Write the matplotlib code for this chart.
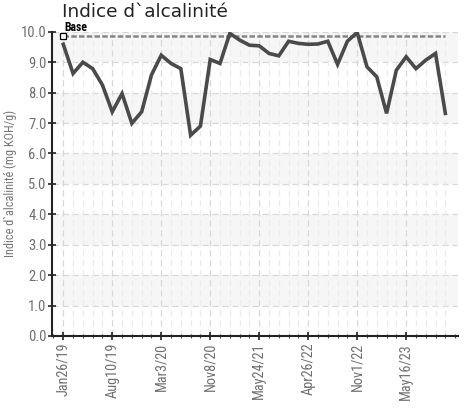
import matplotlib.pyplot as plt
from matplotlib.ticker import MultipleLocator
import numpy as np

# Valeurs (mg KOH/g)
valeurs = [9.59, 8.63, 9.00, 8.79, 8.25, 7.37, 7.97, 6.99, 7.37, 8.58,
           9.23, 8.96, 8.79, 6.60, 6.90, 9.09, 8.96, 9.95, 9.73, 9.56,
           9.54, 9.29, 9.21, 9.69, 9.62, 9.59, 9.60, 9.69, 8.93, 9.69,
           9.98, 8.85, 8.52, 7.32, 8.74, 9.18, 8.79, 9.07, 9.29, 7.32]
base = 9.86
tick_labels = ["Jan26/19", "Aug10/19", "Mar3/20", "Nov8/20",
               "May24/21", "Apr26/22", "Nov1/22", "May16/23"]

plt.rcParams['font.family'] = ['Roboto Condensed', 'Liberation Sans', 'DejaVu Sans']

x = np.arange(len(valeurs))

fig = plt.figure(figsize=(4.66, 4.08), dpi=100)
ax = fig.add_axes([0.1116, 0.1765, 0.8714, 0.7455])

# Bandes grises alternées
for lo in range(1, 10, 2):
    ax.axhspan(lo, lo + 1, color="#f6f6f6", zorder=0, lw=0)

# Grille
for v in range(1, 11):
    ax.axhline(v, color="#d8d8d8", lw=0.9, ls=(0, (5, 3)), zorder=1)
for i in x:
    if i % 5 == 0:
        ax.axvline(i, color="#d8d8d8", lw=0.9, ls=(0, (5, 3)), zorder=1)
    else:
        ax.axvline(i, color="#ececec", lw=0.9, ls=(0, (5, 3)), zorder=1)

# Ligne de base
ax.plot([x[0], x[-1]], [base, base], color="#858585", lw=1.8,
        ls=(0, (2.2, 0.9)), zorder=2)
ax.plot([x[0]], [base], marker="s", ms=4, mfc="white", mec="black",
        mew=0.9, zorder=4, clip_on=False)
ax.text(x[0] + 0.1, base + 0.08, "Base", fontsize=8.5, color="black",
        fontweight="bold", va="bottom", ha="left")

# Courbe
ax.plot(x, valeurs, color="#4a4a4a", lw=2.6, zorder=3,
        solid_joinstyle="miter")

ax.set_xlim(-1.15, 40.3)
ax.set_ylim(0, 10)
ax.set_xticks(x[::5])
ax.set_xticklabels(tick_labels, rotation=90, fontsize=10.3, color="#707070")
ax.xaxis.set_minor_locator(MultipleLocator(1))
ax.set_yticks(range(0, 11))
ax.set_yticklabels([f"{v:.1f}" for v in range(0, 11)], fontsize=10.5,
                   color="#707070")

ax.tick_params(axis="both", which="major", direction="inout", length=6,
               width=1.2, color="#222222")
ax.tick_params(axis="x", which="minor", direction="inout", length=3,
               width=0.8, color="#555555")
ax.tick_params(axis="x", pad=2)
ax.tick_params(axis="y", pad=1)

for side in ("top", "right"):
    ax.spines[side].set_visible(False)
for side in ("left", "bottom"):
    ax.spines[side].set_color("#222222")
    ax.spines[side].set_linewidth(1.5)

ax.set_ylabel("Indice d`alcalinité (mg KOH/g)", fontsize=8.8,
              color="#777777", labelpad=3)

fig.text(0.133, 0.97, "Indice d`alcalinité", fontsize=13.3,
         family="DejaVu Sans", color="#222222", va="center", ha="left")

fig.savefig("out.png", dpi=100, facecolor="white")
